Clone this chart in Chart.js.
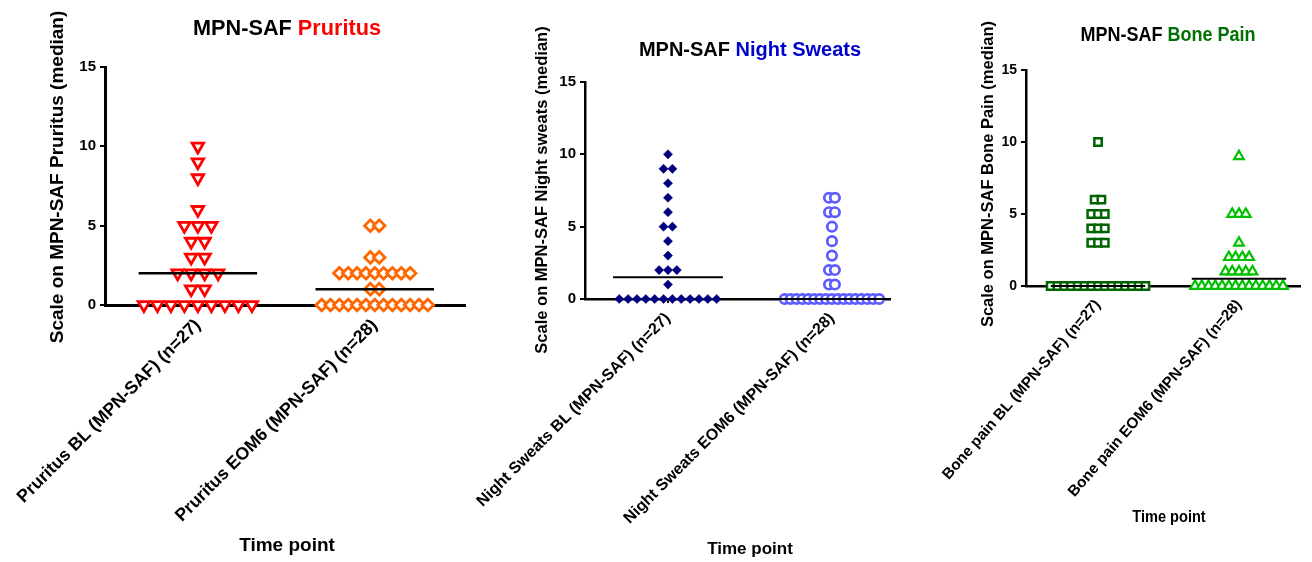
<!DOCTYPE html>
<html><head><meta charset="utf-8">
<script src="https://cdn.jsdelivr.net/npm/chart.js@4.4.1/dist/chart.umd.min.js"></script>
<style>
html,body{margin:0;padding:0;background:#fff;width:1312px;height:562px;overflow:hidden}
canvas{position:absolute;left:0;top:0}
</style></head><body>
<canvas id="c1" width="1312" height="562"></canvas>
<canvas id="c2" width="1312" height="562"></canvas>
<canvas id="c3" width="1312" height="562"></canvas>
<script>
// ---------- DATA ----------
const yTickValues = [0, 5, 10, 15];

const pruritusCategories = ['Pruritus BL (MPN-SAF) (n=27)', 'Pruritus EOM6 (MPN-SAF) (n=28)'];
const pruritusBL   = [10,9,8,6,5,5,5,4,4,3,3,2,2,2,2,1,1,0,0,0,0,0,0,0,0,0];
const pruritusEOM6 = [5,5,3,3,2,2,2,2,2,2,2,2,2,1,1,0,0,0,0,0,0,0,0,0,0,0,0,0];

const nightCategories = ['Night Sweats BL (MPN-SAF) (n=27)', 'Night Sweats EOM6 (MPN-SAF) (n=28)'];
const nightBL   = [10,9,9,8,7,6,5,5,4,3,2,2,2,1,0,0,0,0,0,0,0,0,0,0,0,0];
const nightEOM6 = [7,7,6,6,5,4,3,2,2,1,1,0,0,0,0,0,0,0,0,0,0,0,0,0,0,0,0,0];

const boneCategories = ['Bone pain BL (MPN-SAF) (n=27)', 'Bone pain EOM6 (MPN-SAF) (n=28)'];
const boneBL   = [10,6,6,5,5,5,4,4,4,3,3,3,0,0,0,0,0,0,0,0,0,0,0,0,0,0,0];
const boneEOM6 = [9,5,5,5,3,2,2,2,2,1,1,1,1,1,0,0,0,0,0,0,0,0,0,0,0,0,0,0];

// ---------- HELPERS ----------
const FONT = '"Liberation Sans", Arial, Helvetica, sans-serif';

function median(arr) {
  const s = [...arr].sort((a, b) => a - b);
  const n = s.length;
  return n % 2 ? s[(n - 1) / 2] : (s[n / 2 - 1] + s[n / 2]) / 2;
}
// dot-plot layout: points of equal value spread symmetrically around category centre
function dotPlot(values, center, step) {
  const groups = new Map();
  values.forEach(v => { if (!groups.has(v)) groups.set(v, 0); groups.set(v, groups.get(v) + 1); });
  const pts = [];
  groups.forEach((k, v) => {
    for (let i = 0; i < k; i++) pts.push({ x: center + (i - (k - 1) / 2) * step, y: v });
  });
  return pts;
}

const textPlugin = {
  id: 'panelText',
  afterDraw(chart, args, o) {
    const ctx = chart.ctx;
    const sx = o.squeeze || 1;
    ctx.save();
    ctx.textBaseline = 'middle';
    ctx.save();
    ctx.translate(o.title.x, o.title.y);
    ctx.scale(sx, 1);
    ctx.font = 'bold ' + o.title.size + 'px ' + FONT;
    const total = o.title.parts.reduce((w, p) => w + ctx.measureText(p[0]).width, 0);
    let x = -total / 2;
    ctx.textAlign = 'left';
    o.title.parts.forEach(p => { ctx.fillStyle = p[1]; ctx.fillText(p[0], x, 0); x += ctx.measureText(p[0]).width; });
    ctx.restore();
    ctx.fillStyle = '#000';
    ctx.textAlign = 'center';
    ctx.font = 'bold ' + o.yTitle.size + 'px ' + FONT;
    ctx.save();
    ctx.translate(o.yTitle.x, o.yTitle.y);
    ctx.rotate(-Math.PI / 2);
    ctx.fillText(o.yTitle.text, 0, 0);
    ctx.restore();
    ctx.save();
    ctx.translate(o.xTitle.x, o.xTitle.y);
    ctx.scale(sx, 1);
    ctx.font = 'bold ' + o.xTitle.size + 'px ' + FONT;
    ctx.fillText(o.xTitle.text, 0, 0);
    ctx.restore();
    ctx.restore();
  }
};

function makePanel(p) {
  const yW = 40, xH = 250;
  const ds = [];
  [p.s1, p.s2].forEach((s, i) => {
    const m = median(s.values), c = i + 1;
    ds.push({ type: 'line', data: [{ x: c - p.medHalf, y: m }, { x: c + p.medHalf, y: m }],
      borderColor: '#000', borderWidth: p.medWidth, pointRadius: 0, showLine: true, clip: false, order: 0 });
  });
  [p.s1, p.s2].forEach((s, i) => {
    ds.push({ type: 'scatter', data: dotPlot(s.values, i + 1, s.step), clip: false, order: 1,
      pointStyle: s.style, rotation: s.rotation || 0, pointRadius: s.r, pointHoverRadius: s.r,
      backgroundColor: s.fill, borderColor: s.color, pointBorderWidth: s.bw, borderWidth: s.bw });
  });
  new Chart(document.getElementById(p.id), {
    type: 'scatter',
    data: { datasets: ds },
    options: {
      responsive: false, animation: false, devicePixelRatio: 1,
      events: [],
      layout: { padding: { left: p.area.left - yW, right: 1312 - p.area.right, top: p.area.top, bottom: 562 - p.area.bottom - xH } },
      plugins: { legend: { display: false }, tooltip: { enabled: false }, panelText: p.text },
      scales: {
        x: {
          type: 'linear', min: p.xMin, max: p.xMax,
          afterBuildTicks: s => { s.ticks = [{ value: 1 }, { value: 2 }]; },
          afterFit: s => { s.height = xH; s.paddingLeft = 0; s.paddingRight = 0; },
          ticks: { autoSkip: false, maxRotation: p.xRot, minRotation: p.xRot, color: '#000', padding: p.xPad,
            font: { family: FONT, size: p.xFont, weight: 'bold' },
            callback: v => p.categories[v - 1] },
          grid: { drawOnChartArea: false, drawTicks: true, tickLength: 4, color: '#000', lineWidth: 2 },
          border: { color: '#000', width: p.axisWidth }
        },
        y: {
          type: 'linear', min: 0, max: 15,
          afterBuildTicks: s => { s.ticks = yTickValues.map(v => ({ value: v })); },
          afterFit: s => { s.width = yW; s.paddingTop = 0; s.paddingBottom = 0; },
          ticks: { color: '#000', padding: 4, font: { family: FONT, size: p.yFont, weight: 'bold' } },
          grid: { drawOnChartArea: false, drawTicks: true, tickLength: 5, color: '#000', lineWidth: 2 },
          border: { color: '#000', width: p.axisWidth }
        }
      }
    },
    plugins: [textPlugin]
  });
}

makePanel({
  id: 'c1', categories: pruritusCategories,
  area: { left: 105, right: 465, top: 67, bottom: 305 }, xMin: 0.475, xMax: 2.51,
  xFont: 17.7, xRot: 45, yFont: 15, xPad: 6, axisWidth: 3, medHalf: 0.335, medWidth: 2.5,
  s1: { values: pruritusBL, step: 0.0763, style: 'triangle', rotation: 180, r: 6.6, bw: 2.8, color: '#ff0000', fill: '#ffffff' },
  s2: { values: pruritusEOM6, step: 0.050, style: 'rectRot', r: 5.8, bw: 2.8, color: '#ff6600', fill: '#ffffff' },
  text: {
    title: { x: 287, y: 29, size: 21.7, parts: [['MPN-SAF ', '#000000'], ['Pruritus', '#ff0000']] },
    yTitle: { x: 58, y: 177, size: 19, text: 'Scale on MPN-SAF Pruritus (median)' },
    xTitle: { x: 287, y: 546, size: 19, text: 'Time point' }
  }
});

makePanel({
  id: 'c2', categories: nightCategories,
  area: { left: 585, right: 890, top: 82, bottom: 299 }, xMin: 0.494, xMax: 2.354,
  xFont: 16, xRot: 45, yFont: 15, xPad: 6, axisWidth: 2.5, medHalf: 0.335, medWidth: 2,
  s1: { values: nightBL, step: 0.054, style: 'rectRot', r: 4.6, bw: 0.5, color: '#000080', fill: '#000080' },
  s2: { values: nightEOM6, step: 0.036, style: 'circle', r: 4.7, bw: 2.7, color: '#5b5bff', fill: '#ffffff' },
  text: {
    title: { x: 750, y: 50, size: 20, parts: [['MPN-SAF ', '#000000'], ['Night Sweats', '#0000cc']] },
    yTitle: { x: 542, y: 190, size: 16.5, text: 'Scale on MPN-SAF Night sweats (median)' },
    xTitle: { x: 750, y: 549, size: 17, text: 'Time point' }
  }
});

makePanel({
  id: 'c3', categories: boneCategories,
  area: { left: 1026, right: 1300, top: 70, bottom: 286 }, xMin: 0.489, xMax: 2.433,
  xFont: 15.3, xRot: 49, yFont: 14, xPad: 6, axisWidth: 2.5, medHalf: 0.335, medWidth: 2,
  s1: { values: boneBL, step: 0.048, style: 'rect', r: 5.2, bw: 2.5, color: '#006400', fill: '#ffffff' },
  s2: { values: boneEOM6, step: 0.048, style: 'triangle', r: 5.6, bw: 2.2, color: '#00c000', fill: '#ffffff' },
  text: {
    squeeze: 0.9,
    title: { x: 1168, y: 35, size: 20, parts: [['MPN-SAF ', '#000000'], ['Bone Pain', '#007000']] },
    yTitle: { x: 988, y: 174, size: 16.5, text: 'Scale on MPN-SAF Bone Pain (median)' },
    xTitle: { x: 1169, y: 518, size: 16.2, text: 'Time point' }
  }
});
</script>
</body></html>
